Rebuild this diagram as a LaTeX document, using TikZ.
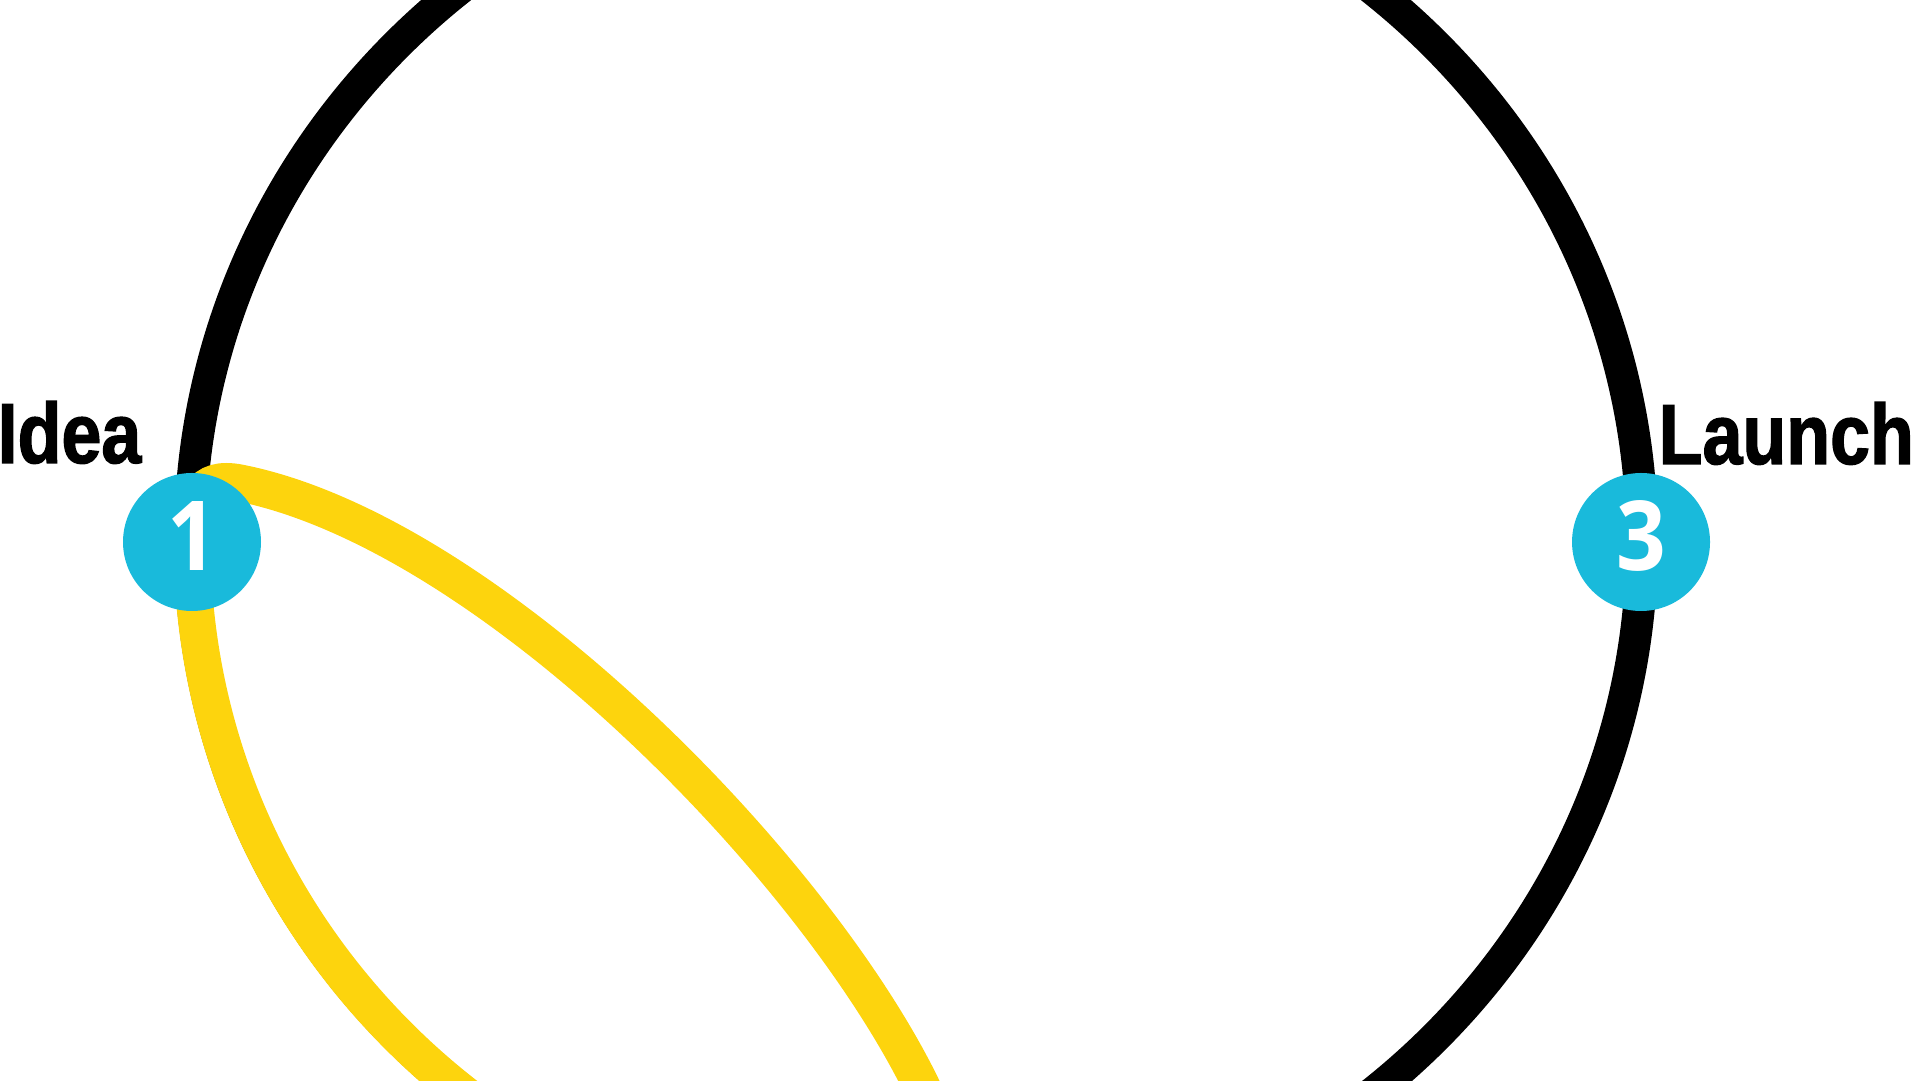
\documentclass[tikz,border=0pt]{standalone}
\usepackage{fontspec}
\setmainfont[FakeStretch=0.84, BoldFeatures={FakeBold=1.5}]{Liberation Sans}
\newfontfamily\digitfont[FakeStretch=0.9]{Open Sans}
\usetikzlibrary{positioning}
\definecolor{stepblue}{RGB}{25,186,219}
\definecolor{pathyellow}{RGB}{253,212,13}
\tikzset{
    stage/.style = {
        shape=circle,
        fill=stepblue,
        text=white,
        minimum size=1.38cm,
        inner sep=0pt,
        text depth=0.12cm,
        font=\digitfont\bfseries\fontsize{27.5}{27.5}\selectfont
    },
    caption/.style = {
        inner sep=0pt,
        font=\bfseries\fontsize{24.3}{24.3}\selectfont
    },
    orbit/.style = {
        draw,
        line width=0.32cm
    },
}

\begin{document}
\begin{tikzpicture}
    \useasboundingbox (0,0) rectangle (19.12,-10.81);
    \coordinate (mid) at (9.16,-5.41);
    \coordinate (top) at (2.40,-4.83);
    \coordinate (tip) at (1.92,-5.41);
    \coordinate (rightout) at (9.19,-10.81);

    \path[orbit] (mid) ellipse [x radius=7.26, y radius=7.10];
    \path[orbit, draw=pathyellow, line width=0.37cm]
        (top) .. controls (2.00,-4.75) and (1.92,-5.00) .. (tip)
        arc [start angle=180, end angle=236, x radius=7.24, y radius=7.08]
        .. controls (6.78,-12.36) and (10.31,-13.05) .. (rightout)
        .. controls (8.07,-8.58) and (4.85,-5.32) .. cycle;

    \node[stage] (idea) at (1.92,-5.42) {1};
    \node[stage] (launch) at (16.41,-5.42) {3};
    \node[caption, anchor=base west] (idealbl) at (-0.03,-4.63) {Idea};
    \node[caption, anchor=base west] (launchlbl) at (16.58,-4.64) {Launch};
\end{tikzpicture}
\end{document}
